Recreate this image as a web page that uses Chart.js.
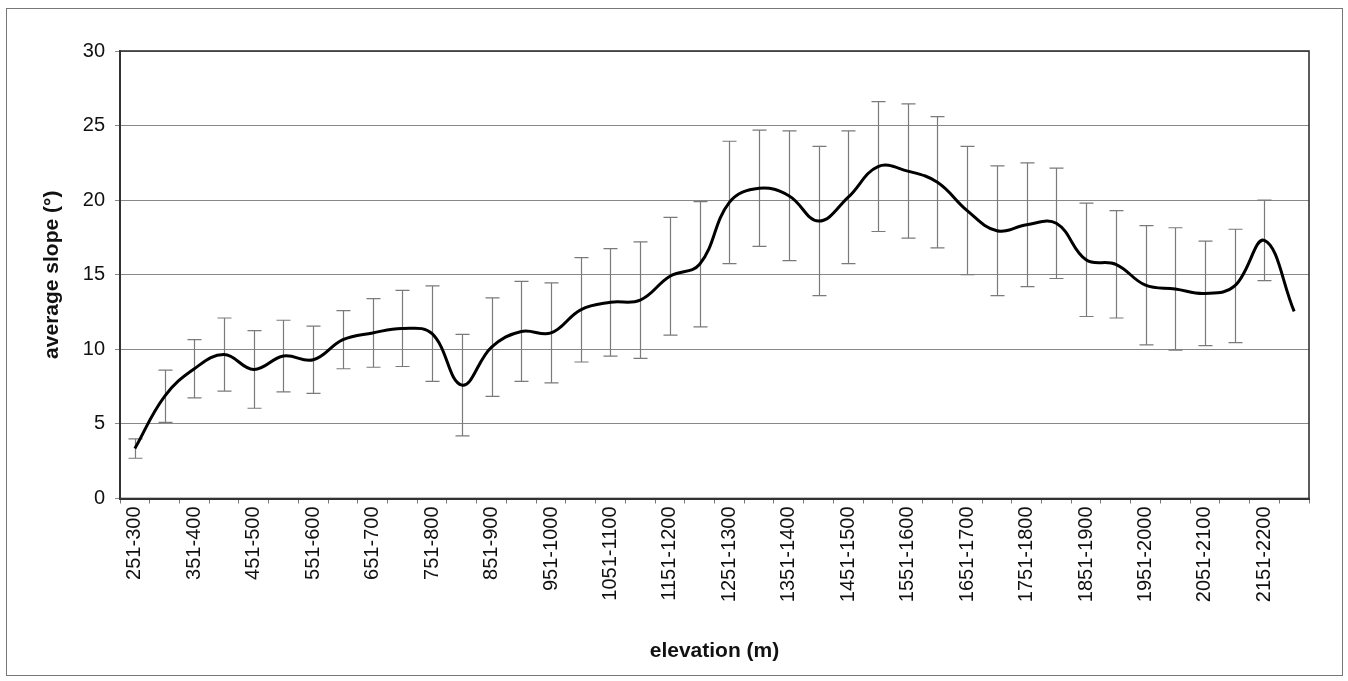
<!DOCTYPE html>
<html>
<head>
<meta charset="utf-8">
<script src="https://cdn.jsdelivr.net/npm/chart.js@4.4.1/dist/chart.umd.min.js"></script>
<style>
  html, body { margin: 0; padding: 0; background: #fff; }
  #wrap { position: relative; width: 1348px; height: 681px; }
  #frame { position: absolute; left: 6px; top: 8px; width: 1335px; height: 666px; border: 1px solid #777; pointer-events: none; }
</style>
</head>
<body>
<div id="wrap">
  <canvas id="chart" width="1348" height="681"></canvas>
  <div id="frame"></div>
</div>
<script>
// elevation bands (m)
const elevationBands = [
  '251-300', '301-350', '351-400', '401-450', '451-500', '501-550', '551-600', '601-650',
  '651-700', '701-750', '751-800', '801-850', '851-900', '901-950', '951-1000', '1001-1050',
  '1051-1100', '1101-1150', '1151-1200', '1201-1250', '1251-1300', '1301-1350', '1351-1400', '1401-1450',
  '1451-1500', '1501-1550', '1551-1600', '1601-1650', '1651-1700', '1701-1750', '1751-1800', '1801-1850',
  '1851-1900', '1901-1950', '1951-2000', '2001-2050', '2051-2100', '2101-2150', '2151-2200', '2201-2250'
];

// average slope per band (deg)
const meanSlope = [
  3.35, 6.85, 8.7, 9.65, 8.65, 9.55, 9.3, 10.65,
  11.1, 11.4, 11.05, 7.6, 10.15, 11.2, 11.1, 12.65,
  13.15, 13.3, 14.9, 15.7, 19.85, 20.8, 20.3, 18.6,
  20.2, 22.25, 21.95, 21.2, 19.3, 17.95, 18.35, 18.45,
  16.0, 15.7, 14.3, 14.05, 13.75, 14.25, 17.3, 12.55
];

// standard deviation (error bar half length)
const slopeSd = [
  0.65, 1.75, 1.95, 2.45, 2.6, 2.4, 2.25, 1.95,
  2.3, 2.55, 3.2, 3.4, 3.3, 3.35, 3.35, 3.5,
  3.6, 3.9, 3.95, 4.2, 4.1, 3.9, 4.35, 5.0,
  4.45, 4.35, 4.5, 4.4, 4.3, 4.35, 4.15, 3.7,
  3.8, 3.6, 4.0, 4.1, 3.5, 3.8, 2.7, null
];

const yMin = 0;
const yMax = 30;
const yStep = 5;

const FONT = '"Liberation Sans", Arial, sans-serif';

// vertical bars with caps, drawn under the line
const errorBars = {
  id: 'errorBars',
  beforeDatasetsDraw(chart) {
    const {ctx, scales: {x, y}} = chart;
    ctx.save();
    ctx.strokeStyle = '#7a7a7a';
    ctx.lineWidth = 1.2;
    meanSlope.forEach((v, i) => {
      const sd = slopeSd[i];
      if (sd == null) return;
      const px = Math.round(x.getPixelForValue(i)) + 0.5;
      const top = y.getPixelForValue(v + sd);
      const bot = y.getPixelForValue(v - sd);
      ctx.beginPath();
      ctx.moveTo(px, top); ctx.lineTo(px, bot);
      ctx.moveTo(px - 7, top); ctx.lineTo(px + 7, top);
      ctx.moveTo(px - 7, bot); ctx.lineTo(px + 7, bot);
      ctx.stroke();
    });
    ctx.restore();
  }
};

// box round the plot area
const plotBox = {
  id: 'plotBox',
  beforeDatasetsDraw(chart) {
    const {ctx, chartArea: a} = chart;
    ctx.save();
    ctx.strokeStyle = '#333';
    ctx.lineWidth = 1.6;
    ctx.strokeRect(a.left, a.top, a.right - a.left, a.bottom - a.top);
    ctx.restore();
  }
};

new Chart(document.getElementById('chart').getContext('2d'), {
  type: 'line',
  data: {
    labels: elevationBands,
    datasets: [{
      data: meanSlope,
      borderColor: '#000',
      borderWidth: 3,
      pointRadius: 0,
      tension: 0.4,
      fill: false
    }]
  },
  options: {
    responsive: false,
    animation: false,
    devicePixelRatio: 1,
    layout: { padding: { top: 51, right: 39, left: 0, bottom: 0 } },
    plugins: {
      legend: { display: false },
      tooltip: { enabled: false }
    },
    scales: {
      x: {
        offset: true,
        afterFit: (scale) => { scale.height = 182.5; },
        grid: {
          offset: true,
          drawOnChartArea: false,
          drawTicks: true,
          tickLength: 5,
          color: '#777'
        },
        border: { color: '#333', width: 2 },
        ticks: {
          autoSkip: false,
          maxRotation: 90,
          minRotation: 90,
          padding: 3,
          color: '#111',
          font: { family: FONT, size: 20 },
          callback: function (val, index) {
            return index % 2 === 0 ? this.getLabelForValue(val) : '';
          }
        },
        title: {
          display: true,
          text: 'elevation (m)',
          color: '#111',
          font: { family: FONT, size: 21, weight: 'bold' },
          padding: { top: 0, bottom: 17 }
        }
      },
      y: {
        min: yMin,
        max: yMax,
        afterFit: (scale) => { scale.width = 120; },
        grid: {
          color: '#888',
          lineWidth: 1,
          drawTicks: true,
          tickLength: 5
        },
        border: { color: '#333', width: 2 },
        ticks: {
          stepSize: yStep,
          padding: 10,
          color: '#111',
          font: { family: FONT, size: 20 }
        },
        title: {
          display: true,
          text: 'average slope (°)',
          color: '#111',
          font: { family: FONT, size: 21, weight: 'bold' },
          padding: { top: 40, bottom: 0 }
        }
      }
    }
  },
  plugins: [errorBars, plotBox]
});
</script>
</body>
</html>
